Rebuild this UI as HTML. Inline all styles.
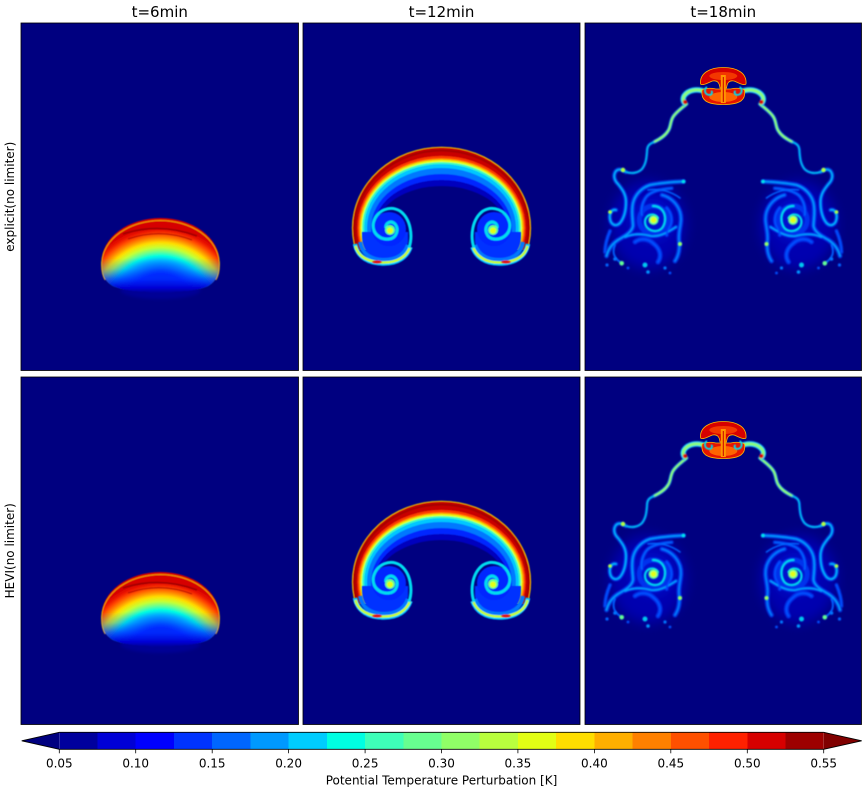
<!DOCTYPE html>
<html><head><meta charset="utf-8">
<style>
html,body{margin:0;padding:0;background:#fff;}
svg{display:block;}
text{font-family:"DejaVu Sans","Liberation Sans",sans-serif;fill:#000;}
</style></head><body>
<svg width="866" height="792" viewBox="0 0 866 792" xmlns="http://www.w3.org/2000/svg" xmlns:xlink="http://www.w3.org/1999/xlink">
<defs>
  <filter id="bl" x="-20%" y="-20%" width="140%" height="140%"><feGaussianBlur stdDeviation="0.7"/></filter>
  <filter id="bl4" x="-20%" y="-20%" width="140%" height="140%"><feGaussianBlur stdDeviation="0.4"/></filter>
  <filter id="bl2" x="-30%" y="-30%" width="160%" height="160%"><feGaussianBlur stdDeviation="1.5"/></filter>
  <filter id="bl5" x="-50%" y="-50%" width="200%" height="200%"><feGaussianBlur stdDeviation="6"/></filter>
  <clipPath id="cp1"><rect x="21" y="23" width="277.5" height="347.5"/></clipPath>
  <clipPath id="cp2"><rect x="303" y="23" width="277" height="347.5"/></clipPath>
  <clipPath id="cp3"><rect x="585" y="23" width="276.5" height="347.5"/></clipPath>
  <clipPath id="c12"><rect x="303" y="23" width="277" height="227"/></clipPath>
  <radialGradient id="g6" gradientUnits="userSpaceOnUse" cx="160.5" cy="310" r="95">
    <stop offset="0" stop-color="#000080"/>
    <stop offset="0.18" stop-color="#000096"/>
    <stop offset="0.30" stop-color="#0000d6"/>
    <stop offset="0.38" stop-color="#0000ff"/>
    <stop offset="0.45" stop-color="#0064ff"/>
    <stop offset="0.52" stop-color="#00b4ff"/>
    <stop offset="0.57" stop-color="#00ffe2"/>
    <stop offset="0.61" stop-color="#64ff96"/>
    <stop offset="0.66" stop-color="#c8ff32"/>
    <stop offset="0.71" stop-color="#ffde00"/>
    <stop offset="0.75" stop-color="#ff9600"/>
    <stop offset="0.80" stop-color="#ff4600"/>
    <stop offset="0.84" stop-color="#eb1400"/>
    <stop offset="0.88" stop-color="#d60000"/>
    <stop offset="1" stop-color="#d60000"/>
  </radialGradient>
  <linearGradient id="f6" gradientUnits="userSpaceOnUse" x1="0" y1="258" x2="0" y2="293">
    <stop offset="0" stop-color="#0064ff" stop-opacity="0"/>
    <stop offset="0.3" stop-color="#0064ff" stop-opacity="0.3"/>
    <stop offset="0.6" stop-color="#0032ff" stop-opacity="0.8"/>
    <stop offset="0.85" stop-color="#0000d6" stop-opacity="1"/>
    <stop offset="1" stop-color="#000096" stop-opacity="1"/>
  </linearGradient>
</defs>

<!-- panel backgrounds -->
<rect x="21" y="23" width="277.5" height="347.5" fill="#000080"/>
<rect x="303" y="23" width="277" height="347.5" fill="#000080"/>
<rect x="585" y="23" width="276.5" height="347.5" fill="#000080"/>
<rect x="21" y="377" width="277.5" height="347.5" fill="#000080"/>
<rect x="303" y="377" width="277" height="347.5" fill="#000080"/>
<rect x="585" y="377" width="276.5" height="347.5" fill="#000080"/>

<!-- t=6 panel -->
<g id="p6" clip-path="url(#cp1)">
 <ellipse cx="160.5" cy="290" rx="40" ry="9" fill="#000096" filter="url(#bl2)"/>
 <g filter="url(#bl4)">
  <path d="M101.5,262 A59,44 0 0 1 219.5,262 C220,274 216,282 207,286.5 C198,290 188,291 176,291.5 C169,292 165,295 160.5,295 C156,295 152,292 145,291.5 C133,291 123,290 114,286.5 C105,282 101,274 101.5,262 Z" fill="url(#g6)"/>
  <path d="M101.5,262 A59,44 0 0 1 219.5,262 C220,274 216,282 207,286.5 C198,290 188,291 176,291.5 C169,292 165,295 160.5,295 C156,295 152,292 145,291.5 C133,291 123,290 114,286.5 C105,282 101,274 101.5,262 Z" fill="url(#f6)"/>
  <path d="M105,280 C101.5,274 101.3,268 101.6,262 A59,44 0 0 1 219.4,262 C219.7,268 219.5,274 216,280" fill="none" stroke="#ffd200" stroke-width="0.9" opacity="0.8"/>
  <path d="M123,234 Q160,222 197,236" stroke="#9d0000" stroke-width="1.6" fill="none"/>
  <path d="M128,239 Q160,228 192,240" stroke="#b00000" stroke-width="1" fill="none"/>
 </g>
</g>

<!-- t=12 panel -->
<g id="p12" clip-path="url(#cp2)">
 <g clip-path="url(#c12)">
  <g filter="url(#bl4)">
   <ellipse cx="441.5" cy="228" rx="89.6" ry="81.3" fill="#ffd200"/>
   <ellipse cx="441.5" cy="228" rx="88.8" ry="80.5" fill="#c80000"/>
   <ellipse cx="441.5" cy="228" rx="84" ry="72" fill="#ff3c00"/>
   <ellipse cx="441.5" cy="228" rx="82.5" ry="69.5" fill="#ffa000"/>
   <ellipse cx="441.5" cy="228" rx="81" ry="68" fill="#e2ff15"/>
   <ellipse cx="441.5" cy="228" rx="79.5" ry="66" fill="#3cffbe"/>
   <ellipse cx="441.5" cy="228" rx="77.5" ry="64" fill="#00c8ff"/>
   <ellipse cx="441.5" cy="228" rx="74.5" ry="60" fill="#0078ff"/>
   <ellipse cx="441.5" cy="228" rx="70.5" ry="54" fill="#0028ff"/>
   <ellipse cx="441.5" cy="228" rx="67.5" ry="48" fill="#0000be"/>
   <ellipse cx="441.5" cy="228" rx="64.5" ry="42" fill="#000080"/>
   <ellipse cx="441.5" cy="228" rx="86.8" ry="77.5" fill="none" stroke="#9d0000" stroke-width="2" opacity="0.8"/>
  </g>
 </g>
 <g id="hookL" filter="url(#bl4)">
  <path d="M362,236 C362,252 372,259 385,259 C398,259 406,252 408,242 L408,232 L362,232 Z" fill="#0030ff"/>
  <path d="M360,242 C362,254 371,260 384,260 C397,260 405,254 408,245" fill="none" stroke="#0078ff" stroke-width="4"/>
  <path d="M355,244 C357.5,257.5 369,263.5 384,263.5 C398,263.5 407,257 410.5,247" fill="none" stroke="#00c8ff" stroke-width="4.5"/>
  <path d="M355.5,246 C358,257 369,262.5 384,262.5 C397.5,262.5 406.5,256.5 410,247" fill="none" stroke="#c8ff32" stroke-width="2.5"/>
  <ellipse cx="377" cy="262" rx="5" ry="1.6" fill="#e01000"/>
  <circle cx="389" cy="229" r="17" fill="#0028ff"/>
  <path d="M409,248 C413,236 411,219 400,211 C390,205 377,210 373.5,222 C371,233 380,240 389,239 C397,238 399,229 395,224 C391,220 385,223 386,228" fill="none" stroke="#00dcf0" stroke-width="3"/>
  <circle cx="390" cy="230" r="5" fill="#67ff90"/>
  <circle cx="390" cy="230.5" r="3" fill="#e2ff15"/>
 </g>
 <use xlink:href="#hookL" href="#hookL" transform="translate(883,0) scale(-1,1)"/>
</g>

<!-- t=18 panel -->
<g id="p18" clip-path="url(#cp3)">
 <g id="h18">
  <ellipse cx="648" cy="225" rx="38" ry="44" fill="#0000d0" opacity="0.6" filter="url(#bl5)"/>
  <ellipse cx="652" cy="220" rx="20" ry="20" fill="#0020f0" opacity="0.5" filter="url(#bl5)"/>
  <g fill="none" stroke-linecap="round" filter="url(#bl)">
   <g stroke="#0046ff" opacity="0.65">
    <path d="M686.5,104 C682,108 676,112 673,117 C670,122 671,127 668,131 C665,136 660,139 654,142" stroke="#00b4ff" stroke-width="4"/>
    <path d="M654,142 C649,144 647,146 647,152 C646.5,158 646,164 642,169 C638,173 632,174 626,172" stroke-width="3.2"/>
    <path d="M626,172 C622,170 619,168 616,171 C613,175 614,180 618,184 C622,189 626,194 626,202 C626,210 624,218 620,223 C616,227 611,225 610,219 C609,213 612,209 616,210" stroke-width="4.5"/>
    <path d="M683.5,181.5 C672,182 660,183 650,185 C641,188 635,195 633,203 C631,212 633,220 633,226 C632,232 625,236 618,240 C612,244 608,250 606.5,256" stroke-width="5"/>
    <path d="M662,195 C670,197 677,203 680,212 C683,222 678,230 679,240 C680,248 679,255 675,261" stroke-width="5"/>
    <path d="M635,242 C640,238 648,238 654,244 C660,249 662,256 658,262" stroke-width="5"/>
    <path d="M625,237 C632,234 640,233 651,236 C660,237 668,232 676,227" stroke-width="4"/>
    <path d="M671.7,188.3 C662,189 652,191 647,196 C642,202 641,208 641.7,215" stroke-width="4"/>
    <path d="M666.7,208 C672,214 673,222 669,228 C667,232 666,234 666.7,235" stroke-width="4"/>
    <path d="M610,231 C607,238 605,245 605,252" stroke-width="4"/>
    <circle cx="653.3" cy="220" r="14" stroke-width="5"/>
   </g>
   <path d="M686.5,104 C682,108 676,112 673,117 C670,122 671,127 668,131 C665,136 660,139 654,142" stroke="#8cff78" stroke-width="2.2"/>
   <path d="M654,142 C649,144 647,146 647,152 C646.5,158 646,164 642,169 C638,173 632,174 626,172" stroke="#00c8f0" stroke-width="1.5"/>
   <path d="M626,172 C622,170 619,168 616,171 C613,175 614,180 618,184 C622,189 626,194 626,202 C626,210 624,218 620,223 C616,227 611,225 610,219 C609,213 612,209 616,210" stroke="#00b4ff" stroke-width="1.8"/>
   <path d="M683.5,181.5 C672,182 660,183 650,185 C641,188 635,195 633,203 C631,212 633,220 633,226 C632,232 625,236 618,240 C612,244 608,250 606.5,256" stroke="#0096ff" stroke-width="2"/>
   <path d="M648,190 C660,188 672,192 680,198" stroke="#0064ff" stroke-width="1.6"/>
   <path d="M662,195 C670,197 677,203 680,212 C683,222 678,230 679,240 C680,248 679,255 675,261" stroke="#0078ff" stroke-width="2"/>
   <path d="M635,242 C640,238 648,238 654,244 C660,249 662,256 658,262" stroke="#0050ff" stroke-width="2"/>
   <path d="M625,237 C632,234 640,233 651,236 C660,237 668,232 676,227" stroke="#00a0ff" stroke-width="1.8"/>
   <path d="M671.7,188.3 C662,189 652,191 647,196 C642,202 641,208 641.7,215" stroke="#0064ff" stroke-width="1.6"/>
   <path d="M666.7,208 C672,214 673,222 669,228 C667,232 666,234 666.7,235" stroke="#0050ff" stroke-width="1.8"/>
   <path d="M610,231 C607,238 605,245 605,252" stroke="#0050ff" stroke-width="1.8"/>
   <path d="M615,245 C612,252 614,258 620,262" stroke="#0060ff" stroke-width="2"/>
   <path d="M653,206 C665,206 668,220 662,228 C656,234 645,230 645,222 C645,214 655,212 658,218" stroke="#00dcf0" stroke-width="2.2"/>
  </g>
  <g filter="url(#bl)">
   <circle cx="653.5" cy="220" r="5" fill="#64ff96"/>
   <circle cx="653.5" cy="220" r="3" fill="#e2ff15"/>
   <circle cx="683.5" cy="181.5" r="1.8" fill="#00e6e6"/>
   <circle cx="623" cy="170" r="2.2" fill="#b9ff3e"/>
   <circle cx="610" cy="212" r="1.8" fill="#b9ff3e"/>
   <circle cx="680" cy="244" r="2" fill="#96ff64"/>
   <circle cx="645" cy="265" r="2.5" fill="#00c8f0"/>
   <circle cx="648" cy="272" r="1.8" fill="#0096ff"/>
   <circle cx="621.7" cy="263.3" r="2.3" fill="#64ff96"/>
   <circle cx="615" cy="259" r="1.8" fill="#0078ff"/>
   <circle cx="607" cy="265" r="1.6" fill="#0064ff"/>
   <circle cx="628" cy="268" r="1.4" fill="#0050ff"/>
   <circle cx="665" cy="268" r="1.6" fill="#0078ff"/>
   <circle cx="670" cy="273" r="1.4" fill="#0050ff"/>
   <path d="M706,92 C697,88 688,90 684,96 C682,100 684,103 686,104" fill="none" stroke="#00c8ff" stroke-width="5.5"/>
   <path d="M706,92 C697,88 688,90 684,96 C682,100 684,103 686,104" fill="none" stroke="#8cff78" stroke-width="3"/>
   <circle cx="685" cy="102" r="2.2" fill="#dc0000"/>
  </g>
 </g>
 <use xlink:href="#h18" href="#h18" transform="translate(1446.5,0) scale(-1,1)"/>
 <!-- cap -->
 <path d="M702,91 C702,88.5 709,87.5 716,89 L730.6,89 C737.6,87.5 744.6,88.5 744.6,91 C745.6,99 741.6,104.5 723.3,104.5 C705,104.5 701,99 702,91 Z" fill="#e61400" stroke="#ffb400" stroke-width="0.8"/>
 <ellipse cx="723.3" cy="97" rx="14" ry="5" fill="#ff6400"/>
 <g filter="url(#bl4)">
  <path d="M707,87 C704,89 704,94 709,95 C712,95 713,92 711,91" fill="none" stroke="#00dcf0" stroke-width="1.8"/>
  <path d="M739.6,87 C742.6,89 742.6,94 737.6,95 C734.6,95 733.6,92 735.6,91" fill="none" stroke="#00dcf0" stroke-width="1.8"/>
 </g>
 <path d="M700.5,84 C699.5,73 710,67.5 723.3,67.5 C737,67.5 747,73 746,84 C744,86 739,83 734,81 C729,80 727,83 726.5,88 L720,88 C719.5,83 717.5,80 712.5,81 C707.5,83 702.5,86 700.5,84 Z" fill="#d60000" stroke="#ffb400" stroke-width="0.8"/>
 <ellipse cx="723.3" cy="76" rx="14" ry="4" fill="#ff5000" opacity="0.7"/>
 <line x1="723.3" y1="75" x2="723.3" y2="103" stroke="#ff9600" stroke-width="5"/>
 <line x1="723.3" y1="77" x2="723.3" y2="102" stroke="#c80000" stroke-width="1"/>
</g>

<!-- bottom row copies -->
<use xlink:href="#p6" href="#p6" transform="translate(0,354)"/>
<use xlink:href="#p12" href="#p12" transform="translate(0,354)"/>
<use xlink:href="#p18" href="#p18" transform="translate(0,354)"/>

<!-- panel borders -->
<g fill="none" stroke="#000" stroke-width="0.8">
<rect x="21" y="23" width="277.5" height="347.5"/>
<rect x="303" y="23" width="277" height="347.5"/>
<rect x="585" y="23" width="276.5" height="347.5"/>
<rect x="21" y="377" width="277.5" height="347.5"/>
<rect x="303" y="377" width="277" height="347.5"/>
<rect x="585" y="377" width="276.5" height="347.5"/>
</g>

<!-- titles -->
<text x="159.75" y="17" text-anchor="middle" font-size="15">t=6min</text>
<text x="441.5" y="17" text-anchor="middle" font-size="15">t=12min</text>
<text x="723.25" y="17" text-anchor="middle" font-size="15">t=18min</text>
<text transform="translate(14,196.75) rotate(-90)" text-anchor="middle" font-size="12">explicit(no limiter)</text>
<text transform="translate(14,550.75) rotate(-90)" text-anchor="middle" font-size="12">HEVI(no limiter)</text>

<!-- colorbar -->
<polygon points="59.3,732.3 21.7,740.8 59.3,749.3" fill="#000080"/>
<polygon points="823.7,732.3 861.7,740.8 823.7,749.3" fill="#800000"/>
<g shape-rendering="crispEdges">
<rect x="59.3" y="732.3" width="38.6" height="17" fill="#00009d"/>
<rect x="97.52" y="732.3" width="38.6" height="17" fill="#0000d6"/>
<rect x="135.74" y="732.3" width="38.6" height="17" fill="#0000ff"/>
<rect x="173.96" y="732.3" width="38.6" height="17" fill="#0033ff"/>
<rect x="212.18" y="732.3" width="38.6" height="17" fill="#0066ff"/>
<rect x="250.4" y="732.3" width="38.6" height="17" fill="#0099ff"/>
<rect x="288.62" y="732.3" width="38.6" height="17" fill="#00ccff"/>
<rect x="326.84" y="732.3" width="38.6" height="17" fill="#00ffe2"/>
<rect x="365.06" y="732.3" width="38.6" height="17" fill="#3effb9"/>
<rect x="403.28" y="732.3" width="38.6" height="17" fill="#67ff90"/>
<rect x="441.5" y="732.3" width="38.6" height="17" fill="#90ff67"/>
<rect x="479.72" y="732.3" width="38.6" height="17" fill="#b9ff3e"/>
<rect x="517.94" y="732.3" width="38.6" height="17" fill="#e2ff15"/>
<rect x="556.16" y="732.3" width="38.6" height="17" fill="#ffde00"/>
<rect x="594.38" y="732.3" width="38.6" height="17" fill="#ffaf00"/>
<rect x="632.6" y="732.3" width="38.6" height="17" fill="#ff8000"/>
<rect x="670.82" y="732.3" width="38.6" height="17" fill="#ff5000"/>
<rect x="709.04" y="732.3" width="38.6" height="17" fill="#ff2100"/>
<rect x="747.26" y="732.3" width="38.6" height="17" fill="#d60000"/>
<rect x="785.48" y="732.3" width="38.22" height="17" fill="#9d0000"/>
</g>
<polygon points="21.7,740.8 59.3,732.3 823.7,732.3 861.7,740.8 823.7,749.3 59.3,749.3" fill="none" stroke="#000" stroke-width="0.8"/>
<g stroke="#000" stroke-width="0.8">
<line x1="59.3" y1="749.3" x2="59.3" y2="753.3"/>
<line x1="135.7" y1="749.3" x2="135.7" y2="753.3"/>
<line x1="212.2" y1="749.3" x2="212.2" y2="753.3"/>
<line x1="288.6" y1="749.3" x2="288.6" y2="753.3"/>
<line x1="365.1" y1="749.3" x2="365.1" y2="753.3"/>
<line x1="441.5" y1="749.3" x2="441.5" y2="753.3"/>
<line x1="517.9" y1="749.3" x2="517.9" y2="753.3"/>
<line x1="594.4" y1="749.3" x2="594.4" y2="753.3"/>
<line x1="670.8" y1="749.3" x2="670.8" y2="753.3"/>
<line x1="747.3" y1="749.3" x2="747.3" y2="753.3"/>
<line x1="823.7" y1="749.3" x2="823.7" y2="753.3"/>
</g>
<g font-size="12" text-anchor="middle">
<text x="59.3" y="767.5">0.05</text>
<text x="135.7" y="767.5">0.10</text>
<text x="212.2" y="767.5">0.15</text>
<text x="288.6" y="767.5">0.20</text>
<text x="365.1" y="767.5">0.25</text>
<text x="441.5" y="767.5">0.30</text>
<text x="517.9" y="767.5">0.35</text>
<text x="594.4" y="767.5">0.40</text>
<text x="670.8" y="767.5">0.45</text>
<text x="747.3" y="767.5">0.50</text>
<text x="823.7" y="767.5">0.55</text>
</g>
<text x="441.5" y="784.3" text-anchor="middle" font-size="12">Potential Temperature Perturbation [K]</text>
</svg>
</body></html>
